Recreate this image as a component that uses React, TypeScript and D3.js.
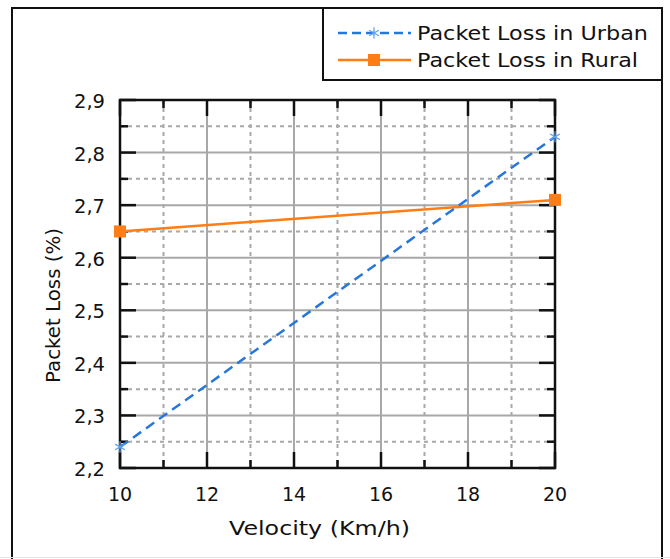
import React, { useRef, useEffect } from "react";
import * as d3 from "d3";

const velocity = [10, 20];
const urbanLoss = [2.24, 2.83];
const ruralLoss = [2.65, 2.71];
const xTicks = [10, 12, 14, 16, 18, 20];
const yTicks = [2.2, 2.3, 2.4, 2.5, 2.6, 2.7, 2.8, 2.9];
const seriesNames = ["Packet Loss in Urban", "Packet Loss in Rural"];

const W = 670;
const H = 559;
const FONT = "DejaVu Sans, Verdana, sans-serif";

export default function App() {
  const svgRef = useRef<SVGSVGElement>(null);

  useEffect(() => {
    const svg = d3.select(svgRef.current);
    svg.selectAll("*").remove();

    const margin = { top: 100, right: 115, bottom: 91, left: 120 };
    const innerWidth = W - margin.left - margin.right;
    const innerHeight = H - margin.top - margin.bottom;

    // outer frame
    svg
      .append("rect")
      .attr("x", 12)
      .attr("y", 8)
      .attr("width", 650)
      .attr("height", 580)
      .attr("fill", "white")
      .attr("stroke", "#111")
      .attr("stroke-width", 2);

    svg
      .append("line")
      .attr("x1", 0)
      .attr("x2", W)
      .attr("y1", 557.5)
      .attr("y2", 557.5)
      .attr("stroke", "#e4e4e4")
      .attr("stroke-width", 1);

    const xScale = d3.scaleLinear().domain([10, 20]).range([0, innerWidth]);
    const yScale = d3.scaleLinear().domain([2.2, 2.9]).range([innerHeight, 0]);

    const g = svg
      .append("g")
      .attr("transform", `translate(${margin.left}, ${margin.top})`);

    // minor grid (dashed)
    const xMinor = d3.range(11, 20, 2);
    const yMinor = d3.range(0, 7).map((i) => 2.25 + i * 0.1);

    g.selectAll(".x-minor")
      .data(xMinor)
      .enter()
      .append("line")
      .attr("x1", (d) => xScale(d))
      .attr("x2", (d) => xScale(d))
      .attr("y1", 0)
      .attr("y2", innerHeight)
      .attr("stroke", "#a8a8a8")
      .attr("stroke-width", 2)
      .attr("stroke-dasharray", "4,4");

    g.selectAll(".y-minor")
      .data(yMinor)
      .enter()
      .append("line")
      .attr("x1", 0)
      .attr("x2", innerWidth)
      .attr("y1", (d) => yScale(d))
      .attr("y2", (d) => yScale(d))
      .attr("stroke", "#a8a8a8")
      .attr("stroke-width", 2)
      .attr("stroke-dasharray", "4,4");

    // major grid (solid)
    g.selectAll(".x-major")
      .data(xTicks.slice(1, -1))
      .enter()
      .append("line")
      .attr("x1", (d) => xScale(d))
      .attr("x2", (d) => xScale(d))
      .attr("y1", 0)
      .attr("y2", innerHeight)
      .attr("stroke", "#a8a8a8")
      .attr("stroke-width", 2);

    g.selectAll(".y-major")
      .data(yTicks.slice(1, -1))
      .enter()
      .append("line")
      .attr("x1", 0)
      .attr("x2", innerWidth)
      .attr("y1", (d) => yScale(d))
      .attr("y2", (d) => yScale(d))
      .attr("stroke", "#a8a8a8")
      .attr("stroke-width", 2);

    // inward ticks on all four sides
    const tickColor = "#111";
    const majorLen = 16;
    const minorLen = 8;
    const drawXTicks = (vals: number[], len: number) => {
      vals.forEach((v) => {
        g.append("line")
          .attr("x1", xScale(v))
          .attr("x2", xScale(v))
          .attr("y1", innerHeight)
          .attr("y2", innerHeight - len)
          .attr("stroke", tickColor)
          .attr("stroke-width", 2.5);
        g.append("line")
          .attr("x1", xScale(v))
          .attr("x2", xScale(v))
          .attr("y1", 0)
          .attr("y2", len)
          .attr("stroke", tickColor)
          .attr("stroke-width", 2.5);
      });
    };
    const drawYTicks = (vals: number[], len: number) => {
      vals.forEach((v) => {
        g.append("line")
          .attr("x1", 0)
          .attr("x2", len)
          .attr("y1", yScale(v))
          .attr("y2", yScale(v))
          .attr("stroke", tickColor)
          .attr("stroke-width", 2.5);
        g.append("line")
          .attr("x1", innerWidth)
          .attr("x2", innerWidth - len)
          .attr("y1", yScale(v))
          .attr("y2", yScale(v))
          .attr("stroke", tickColor)
          .attr("stroke-width", 2.5);
      });
    };
    drawXTicks(xTicks, majorLen);
    drawXTicks(xMinor, minorLen);
    drawYTicks(yTicks, majorLen);
    drawYTicks(yMinor, minorLen);

    // plot border
    g.append("rect")
      .attr("x", 0)
      .attr("y", 0)
      .attr("width", innerWidth)
      .attr("height", innerHeight)
      .attr("fill", "none")
      .attr("stroke", "#111")
      .attr("stroke-width", 2.5);

    // tick labels
    g.selectAll(".x-label")
      .data(xTicks)
      .enter()
      .append("text")
      .attr("x", (d) => xScale(d))
      .attr("y", innerHeight + 33)
      .attr("text-anchor", "middle")
      .attr("font-family", FONT)
      .attr("font-size", 19)
      .attr("fill", "#111")
      .text((d) => String(d));

    g.selectAll(".y-label")
      .data(yTicks)
      .enter()
      .append("text")
      .attr("x", -15)
      .attr("y", (d) => yScale(d) + 8)
      .attr("text-anchor", "end")
      .attr("font-family", FONT)
      .attr("font-size", 19.5)
      .attr("fill", "#111")
      .text((d) => d.toFixed(1).replace(".", ","));

    // axis titles
    svg
      .append("text")
      .attr("x", 229)
      .attr("y", 535)
      .attr("font-family", FONT)
      .attr("font-size", 20)
      .attr("fill", "#111")
      .attr("textLength", 181)
      .attr("lengthAdjust", "spacingAndGlyphs")
      .text("Velocity (Km/h)");

    svg
      .append("text")
      .attr("transform", `translate(60, 383) rotate(-90)`)
      .attr("font-family", FONT)
      .attr("font-size", 20)
      .attr("fill", "#111")
      .attr("textLength", 155)
      .attr("lengthAdjust", "spacingAndGlyphs")
      .text("Packet Loss (%)");

    // series
    const urbanColor = "#2777db";
    const urbanMarker = "#5fa0ec";
    const ruralColor = "#ff7d14";

    const urbanData = velocity.map((v, i) => [v, urbanLoss[i]] as [number, number]);
    const ruralData = velocity.map((v, i) => [v, ruralLoss[i]] as [number, number]);
    const line = d3
      .line<[number, number]>()
      .x((d) => xScale(d[0]))
      .y((d) => yScale(d[1]));

    g.append("path")
      .datum(ruralData)
      .attr("d", line)
      .attr("fill", "none")
      .attr("stroke", ruralColor)
      .attr("stroke-width", 2.5);

    g.selectAll(".rural-pt")
      .data(ruralData)
      .enter()
      .append("rect")
      .attr("x", (d) => xScale(d[0]) - 6)
      .attr("y", (d) => yScale(d[1]) - 6)
      .attr("width", 12)
      .attr("height", 12)
      .attr("fill", ruralColor);

    g.append("path")
      .datum(urbanData)
      .attr("d", line)
      .attr("fill", "none")
      .attr("stroke", urbanColor)
      .attr("stroke-width", 2.5)
      .attr("stroke-dasharray", "10,6");

    const star = d3.symbol().type(d3.symbolAsterisk).size(90);
    g.selectAll(".urban-pt")
      .data(urbanData)
      .enter()
      .append("path")
      .attr("d", star)
      .attr("transform", (d) => `translate(${xScale(d[0])}, ${yScale(d[1])})`)
      .attr("fill", "none")
      .attr("stroke", urbanMarker)
      .attr("stroke-width", 1.2);

    // legend
    const legend = svg.append("g").attr("transform", "translate(323, 8)");
    legend
      .append("rect")
      .attr("x", 0)
      .attr("y", 0)
      .attr("width", 339)
      .attr("height", 72)
      .attr("fill", "white")
      .attr("stroke", "#111")
      .attr("stroke-width", 2);

    const rows = [
      { name: seriesNames[0], y: 25, len: 231, color: urbanColor, dash: "9,5", kind: "star" },
      { name: seriesNames[1], y: 52, len: 221, color: ruralColor, dash: null, kind: "square" },
    ];
    rows.forEach((r) => {
      legend
        .append("line")
        .attr("x1", 15)
        .attr("x2", 88)
        .attr("y1", r.y)
        .attr("y2", r.y)
        .attr("stroke", r.color)
        .attr("stroke-width", 2.5)
        .attr("stroke-dasharray", r.dash);
      if (r.kind === "star") {
        legend
          .append("path")
          .attr("d", star)
          .attr("transform", `translate(51, ${r.y})`)
          .attr("fill", "none")
          .attr("stroke", urbanMarker)
          .attr("stroke-width", 1.2);
      } else {
        legend
          .append("rect")
          .attr("x", 45)
          .attr("y", r.y - 6)
          .attr("width", 12)
          .attr("height", 12)
          .attr("fill", r.color);
      }
      legend
        .append("text")
        .attr("x", 94)
        .attr("y", r.y + 7)
        .attr("font-family", FONT)
        .attr("font-size", 19)
        .attr("fill", "#111")
        .attr("textLength", r.len)
        .attr("lengthAdjust", "spacingAndGlyphs")
        .text(r.name);
    });
  }, []);

  return (
    <svg
      ref={svgRef}
      width={W}
      height={H}
      style={{ position: "absolute", left: 0, top: 0, background: "white" }}
    ></svg>
  );
}
